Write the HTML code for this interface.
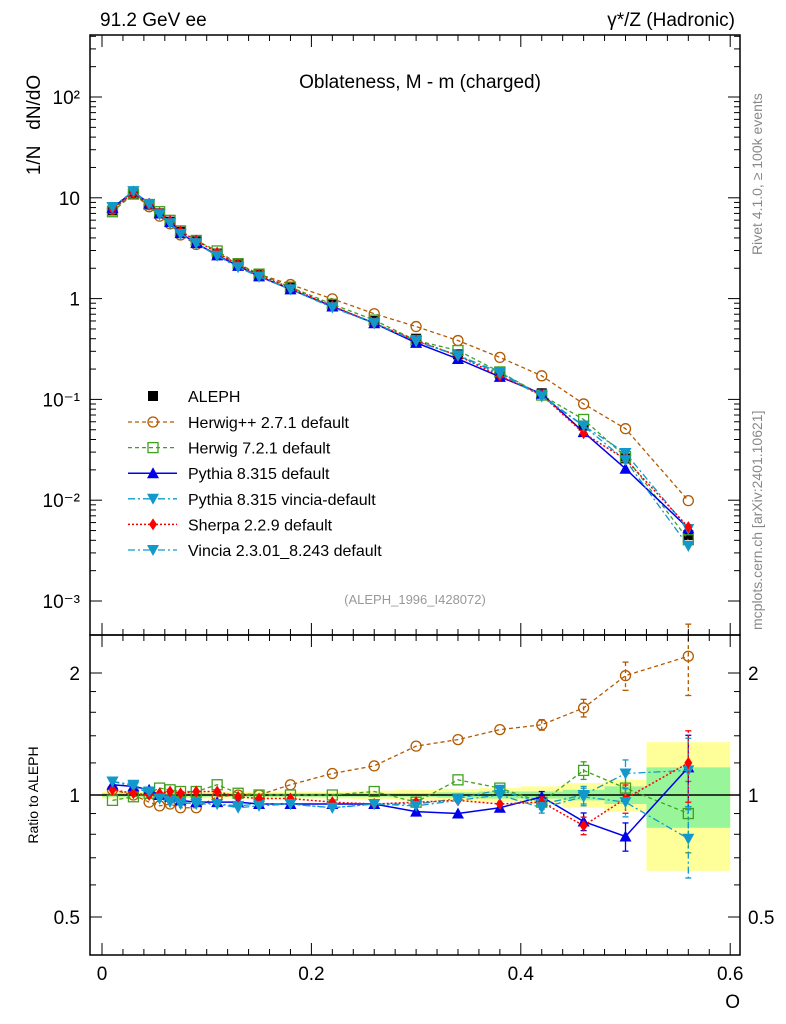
<!DOCTYPE html>
<html><head><meta charset="utf-8"><style>
body{margin:0;background:#fff}
svg{display:block;font-family:"Liberation Sans",sans-serif}
</style></head><body>
<svg id="c" width="786" height="1024" xmlns="http://www.w3.org/2000/svg">
<rect x="0" y="0" width="786" height="1024" fill="#fff"/>
<text x="100" y="26" font-size="19">91.2 GeV ee</text>
<text x="735" y="26" font-size="19" text-anchor="end">γ*/Z (Hadronic)</text>
<text x="420" y="88" font-size="19" text-anchor="middle">Oblateness, M - m (charged)</text>
<text x="415" y="604" font-size="13" fill="#999" text-anchor="middle">(ALEPH_1996_I428072)</text>
<text transform="translate(40,125) rotate(-90)" font-size="19" text-anchor="middle" xml:space="preserve">1/N   dN/dO</text>
<text transform="translate(38,795) rotate(-90)" font-size="14" text-anchor="middle">Ratio to ALEPH</text>
<text x="740" y="1008" font-size="19" text-anchor="end">O</text>
<text transform="translate(762,255) rotate(-90)" font-size="14" fill="#888">Rivet 4.1.0, ≥ 100k events</text>
<text transform="translate(762,630) rotate(-90)" font-size="14" fill="#888">mcplots.cern.ch [arXiv:2401.10621]</text>
<g id="g"></g>
</svg>
<script>
const xs=[0.01,0.03,0.045,0.055,0.065,0.075,0.09,0.11,0.13,0.15,0.18,0.22,0.26,0.30,0.34,0.38,0.42,0.46,0.50,0.56];
const aleph=[7.5,11,8.5,7,5.8,4.6,3.7,2.8,2.2,1.75,1.3,0.88,0.6,0.4,0.28,0.18,0.115,0.055,0.026,0.0045];
const rHerwigpp=[1.03,1.0,0.96,0.94,0.95,0.93,0.93,0.99,1.0,1.0,1.06,1.13,1.18,1.32,1.37,1.45,1.49,1.64,1.97,2.2];
const rHerwig7=[0.97,0.99,1.01,1.04,1.03,1.02,1.02,1.06,1.01,1.0,1.0,1.0,1.02,0.96,1.09,1.04,0.96,1.15,1.04,0.9];
const rPythia=[1.06,1.05,1.03,1.0,0.99,0.97,0.96,0.96,0.96,0.95,0.95,0.95,0.95,0.91,0.90,0.93,0.99,0.86,0.79,1.17];
const rPyVincia=[1.08,1.05,1.01,0.98,0.97,0.96,0.95,0.95,0.94,0.95,0.95,0.93,0.95,0.95,0.98,1.03,0.95,1.0,1.13,1.15];
const rSherpa=[1.03,1.01,1.0,1.01,1.02,1.01,1.02,1.02,0.99,0.98,0.98,0.96,0.95,0.96,0.97,0.95,0.96,0.84,0.98,1.2];
const rVincia=[1.08,1.06,1.02,0.98,0.96,0.95,0.96,0.95,0.93,0.94,0.95,0.93,0.95,0.94,0.97,1.0,0.93,0.99,0.96,0.78];
const mcErr=[0.01,0.01,0.01,0.01,0.01,0.01,0.01,0.01,0.01,0.01,0.01,0.01,0.015,0.015,0.015,0.02,0.03,0.05,0.08,0.2];
const binLo=[0.0,0.02,0.04,0.05,0.06,0.07,0.08,0.10,0.12,0.14,0.16,0.20,0.24,0.28,0.32,0.36,0.40,0.44,0.48,0.52];
const binHi=[0.02,0.04,0.05,0.06,0.07,0.08,0.10,0.12,0.14,0.16,0.20,0.24,0.28,0.32,0.36,0.40,0.44,0.48,0.52,0.60];
const statErr=[0.01,0.01,0.01,0.01,0.01,0.01,0.01,0.01,0.01,0.01,0.01,0.01,0.01,0.01,0.015,0.02,0.02,0.03,0.05,0.17];
const totErr=[0.02,0.02,0.02,0.02,0.02,0.02,0.02,0.02,0.02,0.02,0.02,0.02,0.025,0.03,0.035,0.04,0.05,0.07,0.09,0.35];
const xTicks=[0,0.2,0.4,0.6];

const X=v=>102+v*1047;
const Y=v=>97-(Math.log10(v)-2)*100.8;
const R=v=>795-Math.log2(v)*122;
const g=document.getElementById('g');
const NS='http://www.w3.org/2000/svg';
function el(t,a,p){const e=document.createElementNS(NS,t);for(const k in a)e.setAttribute(k,a[k]);(p||g).appendChild(e);return e;}

for(let i=0;i<xs.length;i++){
  const b=el('rect',{x:X(binLo[i]),width:X(binHi[i])-X(binLo[i]),y:R(1+totErr[i]),height:R(1-totErr[i])-R(1+totErr[i]),fill:'#ffff99'});
  
  
}
for(let i=0;i<xs.length;i++){
  const b=el('rect',{x:X(binLo[i]),width:X(binHi[i])-X(binLo[i]),y:R(1+statErr[i]),height:R(1-statErr[i])-R(1+statErr[i]),fill:'#99f599'});
  
  
}
el('line',{x1:90,x2:740,y1:R(1),y2:R(1),stroke:'#000','stroke-width':1.5});

function marker(type,color,x,y,parent){
  let m;
  if(type==='circle')m=el('circle',{cx:x,cy:y,r:5,fill:'none',stroke:color,'stroke-width':1.3},parent);
  else if(type==='square')m=el('rect',{x:x-5,y:y-5,width:10,height:10,fill:'none',stroke:color,'stroke-width':1.3},parent);
  else if(type==='up')m=el('polygon',{points:`${x},${y-6} ${x-6},${y+5} ${x+6},${y+5}`,fill:color},parent);
  else if(type==='down')m=el('polygon',{points:`${x},${y+6} ${x-6},${y-5} ${x+6},${y-5}`,fill:color},parent);
  else if(type==='diamond')m=el('polygon',{points:`${x},${y-6} ${x-4},${y} ${x},${y+6} ${x+4},${y}`,fill:color},parent);
  else m=el('rect',{x:x-5,y:y-5,width:10,height:10,fill:color},parent);
  return m;
}
// data first (beneath model markers)
const dg=el('g',{});


xs.forEach((x,i)=>marker('sq','#000',X(x),Y(aleph[i]),dg));

const series=[
 {name:'Herwig++ 2.7.1 default',r:rHerwigpp,c:'#b35900',m:'circle',d:'4,3',w:1.3},
 {name:'Herwig 7.2.1 default',r:rHerwig7,c:'#40a020',m:'square',d:'4,3',w:1.3},
 {name:'Pythia 8.315 default',r:rPythia,c:'#0000ee',m:'up',d:'',w:1.5},
 {name:'Pythia 8.315 vincia-default',r:rPyVincia,c:'#1199cc',m:'down',d:'7,3,2,3',w:1.3},
 {name:'Sherpa 2.2.9 default',r:rSherpa,c:'#ff0000',m:'diamond',d:'2,2',w:1.5},
 {name:'Vincia 2.3.01_8.243 default',r:rVincia,c:'#1199cc',m:'down',d:'7,3,2,3',w:1.3}
];
series.forEach((s,si)=>{
  const top=el('g',{});
  
  
  const pts=xs.map((x,i)=>X(x)+','+Y(aleph[i]*s.r[i])).join(' ');
  el('polyline',{points:pts,fill:'none',stroke:s.c,'stroke-width':s.w,'stroke-dasharray':s.d},top);
  xs.forEach((x,i)=>marker(s.m,s.c,X(x),Y(aleph[i]*s.r[i]),top));
  const bot=el('g',{});
  
  
  const pr=xs.map((x,i)=>X(x)+','+R(s.r[i])).join(' ');
  el('polyline',{points:pr,fill:'none',stroke:s.c,'stroke-width':s.w,'stroke-dasharray':s.d},bot);
  xs.forEach((x,i)=>{
    const e=mcErr[i]*s.r[i];
    if(R(s.r[i]-e)-R(s.r[i]+e)>8){
      el('line',{x1:X(x),x2:X(x),y1:R(s.r[i]+e),y2:R(s.r[i]-e),stroke:s.c,'stroke-width':1.3,'stroke-dasharray':s.d},bot);
      el('line',{x1:X(x)-3,x2:X(x)+3,y1:R(s.r[i]+e),y2:R(s.r[i]+e),stroke:s.c,'stroke-width':1.3},bot);
      el('line',{x1:X(x)-3,x2:X(x)+3,y1:R(s.r[i]-e),y2:R(s.r[i]-e),stroke:s.c,'stroke-width':1.3},bot);
    }
    marker(s.m,s.c,X(x),R(s.r[i]),bot);
  });
  const ly=422+si*25.6;
  const lg=el('g',{});
  
  
  el('line',{x1:128,x2:177,y1:ly,y2:ly,stroke:s.c,'stroke-width':s.w,'stroke-dasharray':s.d},lg);
  marker(s.m,s.c,153,ly,lg);
  const t=el('text',{x:188,y:ly+6,'font-size':16},lg);t.textContent=s.name;
});
{const lg=el('g',{});


marker('sq','#000',153,396,lg);const t=el('text',{x:188,y:402,'font-size':16},lg);t.textContent='ALEPH';}

el('rect',{x:90,y:35,width:650,height:600,fill:'none',stroke:'#000','stroke-width':1.5});
el('rect',{x:90,y:635,width:650,height:320,fill:'none',stroke:'#000','stroke-width':1.5});
const yl=['10\u207B\u00B3','10\u207B\u00B2','10\u207B\u00B9','1','10','10\u00B2'];
for(let e=-3;e<=2;e++){
  const y=Y(Math.pow(10,e));
  el('line',{x1:90,x2:102,y1:y,y2:y,stroke:'#000'});el('line',{x1:728,x2:740,y1:y,y2:y,stroke:'#000'});
  const t=el('text',{x:80,y:y+7,'font-size':19,'text-anchor':'end'});
  
  
  t.textContent=yl[e+3];
  for(let k=2;k<10;k++){const yy=Y(k*Math.pow(10,e));if(yy<35)continue;
    el('line',{x1:90,x2:96,y1:yy,y2:yy,stroke:'#000'});el('line',{x1:734,x2:740,y1:yy,y2:yy,stroke:'#000'});}
}
[0.5,1,2].forEach(v=>{const y=R(v);
  el('line',{x1:90,x2:102,y1:y,y2:y,stroke:'#000'});el('line',{x1:728,x2:740,y1:y,y2:y,stroke:'#000'});
  [80,748].forEach((xx,j)=>{const t=el('text',{x:xx,y:y+7,'font-size':19,'text-anchor':j?'start':'end'});
  
  
  t.textContent=String(v);});
});
[0.6,0.7,0.8,0.9,1.2,1.4,1.6,1.8].forEach(v=>{const y=R(v);
  el('line',{x1:90,x2:96,y1:y,y2:y,stroke:'#000'});el('line',{x1:734,x2:740,y1:y,y2:y,stroke:'#000'});});
for(let v=0;v<=0.6001;v+=0.02){const x=X(v);const big=Math.abs(v*10-Math.round(v*10))<1e-6&&Math.round(v*10)%2===0;const len=big?12:6;
  [35,635].forEach(y0=>el('line',{x1:x,x2:x,y1:y0,y2:y0+len,stroke:'#000'}));
  [635,955].forEach(y0=>el('line',{x1:x,x2:x,y1:y0,y2:y0-len,stroke:'#000'}));}
xTicks.forEach(v=>{const t=el('text',{x:X(v),y:980,'font-size':19,'text-anchor':'middle'});
  
  
  t.textContent=v===0?'0':v.toFixed(1);});
</script>
</body></html>
